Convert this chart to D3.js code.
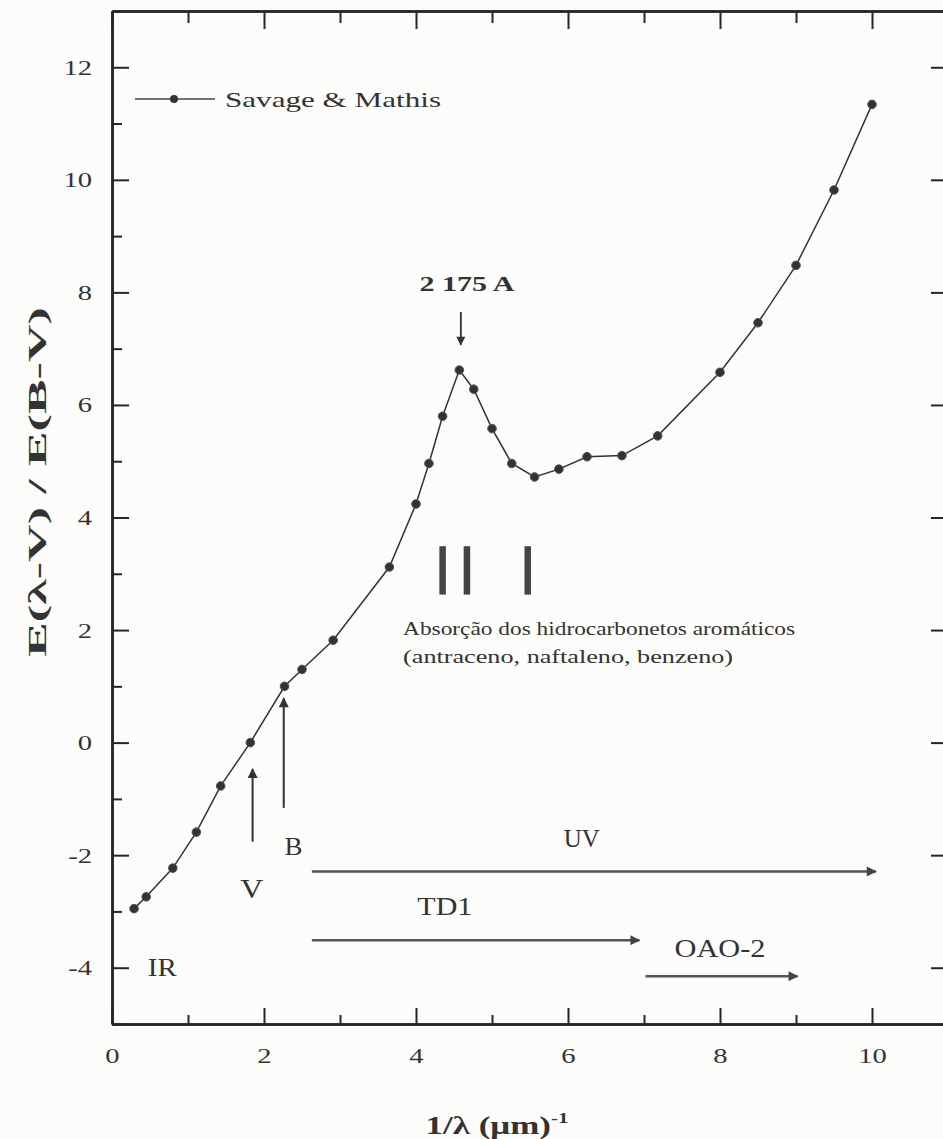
<!DOCTYPE html>
<html>
<head>
<meta charset="utf-8">
<script src="https://cdn.jsdelivr.net/npm/d3@7"></script>
<style>
  html, body { margin: 0; padding: 0; background: #fcfcfa; }
  svg { display: block; font-family: "Liberation Serif", "Times New Roman", serif; }
</style>
</head>
<body>
<div id="chart"></div>
<script>
// Savage & Mathis extinction curve
const waveNumbers = [0.29, 0.45, 0.80, 1.11, 1.43, 1.82, 2.27, 2.50, 2.91, 3.65, 4.00, 4.17, 4.35,
  4.57, 4.76, 5.00, 5.26, 5.56, 5.88, 6.25, 6.71, 7.18, 8.00, 8.50, 9.00, 9.50, 10.00];
const extinction = [-2.95, -2.74, -2.23, -1.59, -0.77, 0.00, 1.00, 1.30, 1.82, 3.12, 4.24, 4.96, 5.80,
  6.62, 6.28, 5.58, 4.96, 4.72, 4.86, 5.08, 5.10, 5.45, 6.58, 7.46, 8.48, 9.82, 11.34];

const xMajorTicks = [0, 2, 4, 6, 8, 10];
const xMinorTicks = [1, 3, 5, 7, 9, 11];
const yMajorTicks = [-4, -2, 0, 2, 4, 6, 8, 10, 12];
const yMinorTicks = [-5, -3, -1, 1, 3, 5, 7, 9, 11, 13];

// aromatic hydrocarbon absorption bands
const bandPositions = [4.35, 4.67, 5.47];
const bandRange = [2.63, 3.49];

// spectral coverage arrows
const coverageNames = ['UV', 'TD1', 'OAO-2'];
const coverageStart = [2.63, 2.63, 7.02];
const coverageEnd = [10.05, 6.94, 9.02];
const coverageLevel = [-2.29, -3.51, -4.15];

// photometric band arrows
const bandNames = ['V', 'B'];
const bandX = [1.85, 2.26];
const bandTail = [-1.76, -1.16];
const bandTip = [-0.47, 0.79];

const W = 943, H = 1139;
const plotLeft = 112, plotTop = 11, plotBottom = 1024;

const svg = d3.select('#chart').append('svg')
  .attr('width', W)
  .attr('height', H);

svg.append('rect').attr('width', W).attr('height', H).attr('fill', '#fcfcfa');

const x = d3.scaleLinear().domain([0, 11]).range([plotLeft, plotLeft + 76 * 11]);
const y = d3.scaleLinear().domain([-5, 13]).range([plotBottom, plotTop]);

const ink = '#262626';

// arrow heads
const defs = svg.append('defs');
defs.append('marker')
  .attr('id', 'head')
  .attr('viewBox', '0 0 10 10')
  .attr('refX', 9).attr('refY', 5)
  .attr('markerWidth', 6).attr('markerHeight', 4)
  .attr('markerUnits', 'strokeWidth')
  .attr('orient', 'auto')
  .append('path').attr('d', 'M0,0 L10,5 L0,10 Z').attr('fill', '#444');
defs.append('marker')
  .attr('id', 'headSmall')
  .attr('viewBox', '0 0 10 10')
  .attr('refX', 9).attr('refY', 5)
  .attr('markerWidth', 9).attr('markerHeight', 5)
  .attr('markerUnits', 'strokeWidth')
  .attr('orient', 'auto')
  .append('path').attr('d', 'M0,0 L10,5 L0,10 Z').attr('fill', '#333');

function styleAxis(g) {
  g.select('.domain').attr('stroke', ink).attr('stroke-width', 2.5);
  g.selectAll('.tick line').attr('stroke', ink).attr('stroke-width', 2);
  g.selectAll('.tick text')
    .attr('fill', '#333')
    .style('font-size', '22px')
    .style('font-family', '"Liberation Serif", serif');
}

const plain = d => String(d);

// bottom axis
const xb = svg.append('g').attr('transform', `translate(0,${plotBottom})`)
  .call(d3.axisBottom(x).tickValues(xMajorTicks).tickSizeInner(-16).tickSizeOuter(0)
    .tickPadding(23).tickFormat(plain));
styleAxis(xb);
xb.selectAll('.tick text').attr('transform', 'scale(1.3,1)');
const xbm = svg.append('g').attr('transform', `translate(0,${plotBottom})`)
  .call(d3.axisBottom(x).tickValues(xMinorTicks).tickSizeInner(-9).tickSizeOuter(0).tickFormat(''));
styleAxis(xbm);

// top axis
const xt = svg.append('g').attr('transform', `translate(0,${plotTop})`)
  .call(d3.axisTop(x).tickValues(xMajorTicks).tickSizeInner(-18).tickSizeOuter(0).tickFormat(''));
styleAxis(xt);
const xtm = svg.append('g').attr('transform', `translate(0,${plotTop})`)
  .call(d3.axisTop(x).tickValues(xMinorTicks).tickSizeInner(-12).tickSizeOuter(0).tickFormat(''));
styleAxis(xtm);

// left axis
const yl = svg.append('g').attr('transform', `translate(${plotLeft},0)`)
  .call(d3.axisLeft(y).tickValues(yMajorTicks).tickSizeInner(-17).tickSizeOuter(0)
    .tickPadding(20).tickFormat(plain));
styleAxis(yl);
yl.selectAll('.tick text').attr('transform', 'scale(1.3,1)').attr('x', -20 / 1.3);
const ylm = svg.append('g').attr('transform', `translate(${plotLeft},0)`)
  .call(d3.axisLeft(y).tickValues(yMinorTicks).tickSizeInner(-10).tickSizeOuter(0).tickFormat(''));
styleAxis(ylm);

// right axis (falls just outside the picture)
const yr = svg.append('g').attr('transform', `translate(${x(11)},0)`)
  .call(d3.axisRight(y).tickValues(yMajorTicks).tickSizeInner(-17).tickSizeOuter(0).tickFormat(''));
styleAxis(yr);

// curve
const points = waveNumbers.map((v, i) => ({ x: v, y: extinction[i] }));
const line = d3.line()
  .x(d => x(d.x))
  .y(d => y(d.y));

svg.append('path')
  .datum(points)
  .attr('d', line)
  .attr('fill', 'none')
  .attr('stroke', '#333')
  .attr('stroke-width', 1.5);

svg.selectAll('.pt')
  .data(points)
  .enter().append('circle')
  .attr('class', 'pt')
  .attr('cx', d => x(d.x))
  .attr('cy', d => y(d.y))
  .attr('r', 4.3)
  .attr('fill', '#333')
  .attr('stroke', '#555')
  .attr('stroke-width', 1);

// legend
const lg = svg.append('g');
lg.append('line').attr('x1', 135).attr('x2', 215).attr('y1', 99).attr('y2', 99)
  .attr('stroke', '#444').attr('stroke-width', 1.4);
lg.append('circle').attr('cx', 174).attr('cy', 99).attr('r', 4).attr('fill', '#333');
lg.append('text').attr('x', 225).attr('y', 107)
  .attr('font-size', 22).attr('fill', '#333')
  .attr('textLength', 216).attr('lengthAdjust', 'spacingAndGlyphs')
  .text('Savage & Mathis');

// label helper
function label(px, py, str, size, len, anchor, weight) {
  return svg.append('text')
    .attr('x', px).attr('y', py)
    .attr('font-size', size)
    .attr('font-weight', weight || 'normal')
    .attr('text-anchor', anchor || 'middle')
    .attr('fill', '#333')
    .attr('textLength', len)
    .attr('lengthAdjust', 'spacingAndGlyphs')
    .text(str);
}

// 2175 A bump
label(x(4.67), y(8.03), '2 175 A', 22, 95, 'middle', 'bold');
svg.append('line')
  .attr('x1', x(4.59)).attr('x2', x(4.59))
  .attr('y1', y(7.65)).attr('y2', y(7.07))
  .attr('stroke', '#333').attr('stroke-width', 1.8)
  .attr('marker-end', 'url(#headSmall)');

// absorption bands
svg.selectAll('.band')
  .data(bandPositions)
  .enter().append('line')
  .attr('class', 'band')
  .attr('x1', d => x(d)).attr('x2', d => x(d))
  .attr('y1', y(bandRange[0])).attr('y2', y(bandRange[1]))
  .attr('stroke', '#444').attr('stroke-width', 6.5);

label(x(3.83), y(1.91), 'Absorção dos hidrocarbonetos aromáticos', 19, 392, 'start');
label(x(3.83), y(1.41), '(antraceno, naftaleno, benzeno)', 19, 330, 'start');

// V and B arrows
bandNames.forEach((n, i) => {
  svg.append('line')
    .attr('x1', x(bandX[i])).attr('x2', x(bandX[i]))
    .attr('y1', y(bandTail[i])).attr('y2', y(bandTip[i]))
    .attr('stroke', '#333').attr('stroke-width', 2)
    .attr('marker-end', 'url(#headSmall)');
});
label(x(1.84), y(-2.76), 'V', 27, 23);
label(x(2.39), y(-2.0), 'B', 26, 18);
label(x(0.47), y(-4.15), 'IR', 26, 29, 'start');

// coverage arrows
coverageNames.forEach((n, i) => {
  svg.append('line')
    .attr('x1', x(coverageStart[i])).attr('x2', x(coverageEnd[i]))
    .attr('y1', y(coverageLevel[i])).attr('y2', y(coverageLevel[i]))
    .attr('stroke', '#555').attr('stroke-width', 2.5)
    .attr('marker-end', 'url(#head)');
});
label(x(6.18), y(-1.85), 'UV', 25, 36);
label(x(4.38), y(-3.06), 'TD1', 25, 55);
label(x(8.0), y(-3.81), 'OAO-2', 25, 91);

// axis titles
svg.append('text')
  .attr('transform', 'translate(46,482) rotate(-90)')
  .attr('text-anchor', 'middle')
  .attr('font-size', 26)
  .attr('font-weight', 'bold')
  .attr('fill', '#333')
  .attr('textLength', 350).attr('lengthAdjust', 'spacingAndGlyphs')
  .text('E(λ-V) / E(B-V)');

const xt2 = svg.append('text')
  .attr('transform', 'translate(497,1134) scale(1.4,1)')
  .attr('text-anchor', 'middle')
  .attr('font-size', 25)
  .attr('font-weight', 'bold')
  .attr('fill', '#333');
xt2.append('tspan').text('1/λ (μm)');
xt2.append('tspan').attr('font-size', 15).attr('dy', -11).text('-1');
</script>
</body>
</html>
